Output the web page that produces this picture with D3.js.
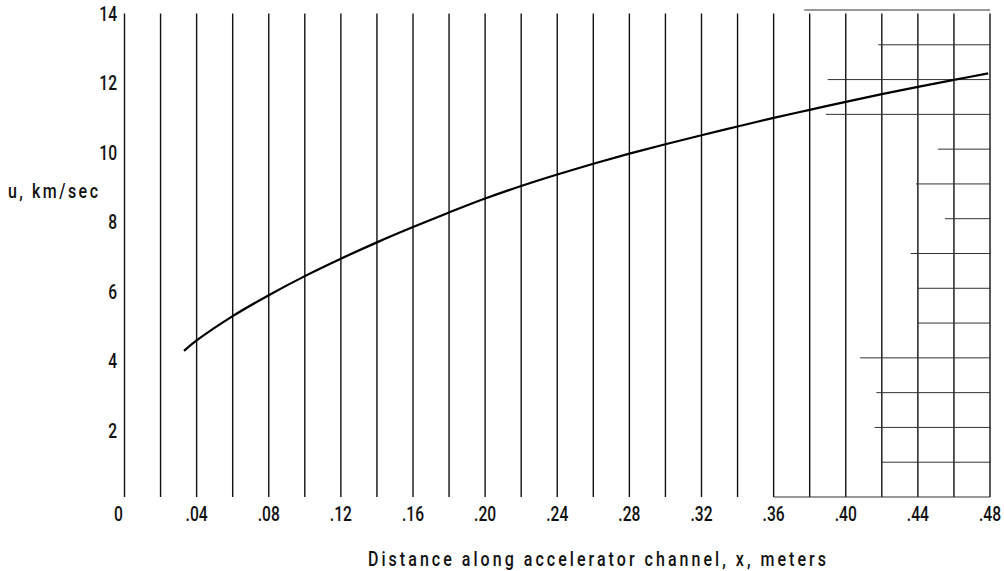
<!DOCTYPE html>
<html>
<head>
<meta charset="utf-8">
<script src="https://cdn.jsdelivr.net/npm/d3@7"></script>
<style>
  html, body { margin: 0; padding: 0; background: #fff; }
  svg { display: block; }
  text { font-family: Roboto, "DejaVu Sans", sans-serif; font-weight: 500; fill: #111; }
</style>
</head>
<body>
<svg id="chart" width="1004" height="571"></svg>
<script>
// ---- data ----
const xTickValues = [0, 0.04, 0.08, 0.12, 0.16, 0.20, 0.24, 0.28, 0.32, 0.36, 0.40, 0.44, 0.48];
const xTickLabels = ["0", ".04", ".08", ".12", ".16", ".20", ".24", ".28", ".32", ".36", ".40", ".44", ".48"];
const yTickValues = [2, 4, 6, 8, 10, 12, 14];
const yTickLabels = ["2", "4", "6", "8", "10", "12", "14"];
const gridX = [0,0.02,0.04,0.06,0.08,0.10,0.12,0.14,0.16,0.18,0.20,0.22,0.24,0.26,0.28,0.30,0.32,0.34,0.36,0.38,0.40,0.42,0.44,0.46,0.48];
const gridYLevels = [0,1,2,3,4,5,6,7,8,9,10,11,12,13,14];
const gridYStart  = [0.36,0.42,0.416,0.417,0.408,0.44,0.44,0.436,0.455,0.439,0.451,0.389,0.39,0.418,0.377];
const curveX = [0.033,0.04,0.06,0.08,0.10,0.12,0.14,0.16,0.18,0.20,0.22,0.24,0.26,0.28,0.30,0.32,0.34,0.36,0.38,0.40,0.42,0.44,0.46,0.479];
const curveU = [4.2,4.5,5.2,5.8,6.35,6.85,7.32,7.76,8.18,8.58,8.94,9.27,9.58,9.87,10.14,10.4,10.65,10.9,11.13,11.36,11.58,11.79,11.99,12.18];
const xTitle = "Distance along accelerator channel, x, meters";
const yTitle = "u, km/sec";

// ---- layout ----
const svg = d3.select("#chart");
const x = d3.scaleLinear().domain([0, 0.48]).range([124.5, 990]);
const y = d3.scaleLinear().domain([0, 14]).range([497, 10]);
const SX = 0.8; // horizontal condensing of the lettering

// vertical grid lines
svg.append("g").selectAll("line").data(gridX).join("line")
  .attr("x1", d => x(d)).attr("x2", d => x(d))
  .attr("y1", y(0)).attr("y2", y(13.9))
  .attr("stroke", "#111").attr("stroke-width", 1.4);

// horizontal partial grid lines
svg.append("g").selectAll("line").data(gridYLevels).join("line")
  .attr("x1", (d, i) => x(gridYStart[i])).attr("x2", x(0.48))
  .attr("y1", d => y(d)).attr("y2", d => y(d))
  .attr("stroke", "#333").attr("stroke-width", 1);

// curve
const line = d3.line().x(d => x(d[0])).y(d => y(d[1])).curve(d3.curveCatmullRom.alpha(0.5));
svg.append("path")
  .datum(curveX.map((v, i) => [v, curveU[i]]))
  .attr("d", line)
  .attr("fill", "none").attr("stroke", "#000").attr("stroke-width", 2.2);

// x tick labels
svg.append("g").selectAll("g").data(xTickValues).join("g")
  .attr("transform", d => `translate(${x(d) - (d === 0 ? 6 : 0)},520.5) scale(${SX},1)`)
  .append("text")
  .attr("text-anchor", "middle")
  .attr("font-size", 19.5)
  .text((d, i) => xTickLabels[i]);

// y tick labels
svg.append("g").selectAll("g").data(yTickValues).join("g")
  .attr("transform", d => `translate(117,${y(d) + 10.5}) scale(${SX},1)`)
  .append("text")
  .attr("text-anchor", "end")
  .attr("font-size", 19.5)
  .text((d, i) => yTickLabels[i]);

// titles
svg.append("g").attr("transform", `translate(368,566) scale(${SX},1)`)
  .append("text").attr("font-size", 20)
  .attr("textLength", 458 / SX).attr("lengthAdjust", "spacing")
  .text(xTitle);
svg.append("g").attr("transform", `translate(8,198) scale(${SX},1)`)
  .append("text").attr("font-size", 20)
  .attr("textLength", 90 / SX).attr("lengthAdjust", "spacing")
  .text(yTitle);
</script>
</body>
</html>
